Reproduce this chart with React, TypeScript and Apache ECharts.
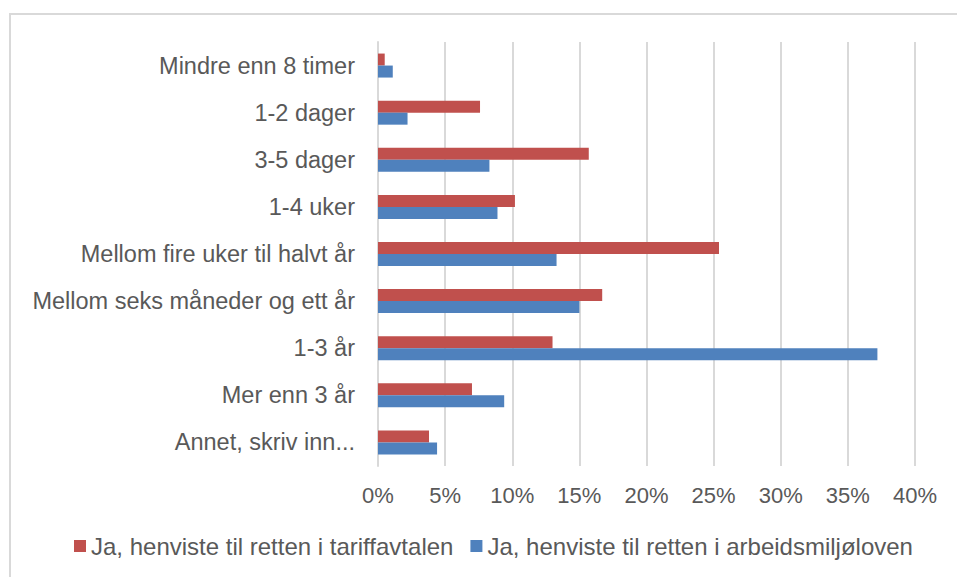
import React, { useEffect, useRef } from "react";
import * as echarts from "echarts";

const categories = [
  "Mindre enn 8 timer",
  "1-2 dager",
  "3-5 dager",
  "1-4 uker",
  "Mellom fire uker til halvt år",
  "Mellom seks måneder og ett år",
  "1-3 år",
  "Mer enn 3 år",
  "Annet, skriv inn...",
];

const seriesNames = [
  "Ja, henviste til retten i tariffavtalen",
  "Ja, henviste til retten i arbeidsmiljøloven",
];

const tariffValues = [0.5, 7.6, 15.7, 10.2, 25.4, 16.7, 13.0, 7.0, 3.8];
const amlValues = [1.1, 2.2, 8.3, 8.9, 13.3, 15.0, 37.2, 9.4, 4.4];

const xTicks = [0, 5, 10, 15, 20, 25, 30, 35, 40];

const FONT = "'Liberation Sans', Arial, sans-serif";
const TEXT = "#595959";

export default function App() {
  const ref = useRef<HTMLDivElement>(null);

  useEffect(() => {
    if (!ref.current) return;
    const chart = echarts.init(ref.current, undefined, { renderer: "svg" });
    chart.setOption({
      animation: false,
      backgroundColor: "#ffffff",
      textStyle: { fontFamily: FONT, color: TEXT },
      graphic: [
        {
          type: "rect",
          shape: { x: 10, y: 14, width: 1200, height: 1200 },
          style: { fill: "none", stroke: "#d9d9d9", lineWidth: 2 },
          silent: true,
        },
      ],
      legend: {
        left: 74,
        top: 534,
        padding: 0,
        itemWidth: 12,
        itemHeight: 12,
        itemGap: 17,
        icon: "rect",
        textStyle: { fontSize: 24, color: TEXT, fontFamily: FONT },
        data: seriesNames,
      },
      grid: { left: 378, right: 42, top: 42, bottom: 111, containLabel: false },
      xAxis: {
        type: "value",
        min: xTicks[0],
        max: xTicks[xTicks.length - 1],
        interval: 5,
        axisLine: { show: false },
        axisTick: { show: false },
        splitLine: { show: true, lineStyle: { color: "#d9d9d9", width: 2 } },
        axisLabel: {
          formatter: "{value}%",
          fontSize: 22,
          color: TEXT,
          fontFamily: FONT,
          margin: 18,
        },
      },
      yAxis: {
        type: "category",
        inverse: true,
        data: categories,
        axisLine: { show: true, lineStyle: { color: "#d9d9d9", width: 2 } },
        axisTick: { show: false },
        axisLabel: { fontSize: 23.5, color: TEXT, fontFamily: FONT, margin: 23 },
      },
      series: [
        {
          name: seriesNames[0],
          type: "bar",
          data: tariffValues,
          barWidth: 12,
          barGap: "0%",
          itemStyle: { color: "#c0504d" },
        },
        {
          name: seriesNames[1],
          type: "bar",
          data: amlValues,
          barWidth: 12,
          barGap: "0%",
          itemStyle: { color: "#4f81bd" },
        },
      ],
    });
    return () => chart.dispose();
  }, []);

  return (
    <div
      ref={ref}
      style={{ position: "fixed", left: 0, top: 0, width: 957, height: 577 }}
    />
  );
}
